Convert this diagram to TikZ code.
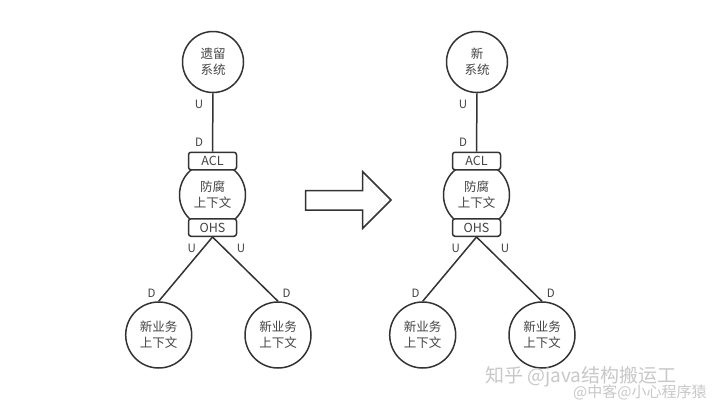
\documentclass[tikz,border=0pt]{standalone}
\usepackage{fontspec}
\setmainfont{Noto Sans CJK SC}
\definecolor{ln}{HTML}{333333}
\definecolor{tx}{HTML}{444444}
\definecolor{wm}{HTML}{C8C8C8}
\tikzset{
  ctx/.style={circle, draw=ln, line width=1.5pt, fill=white, inner sep=0pt, align=center,
    font=\fontsize{12.5}{16}\selectfont, text=tx},
  smallctx/.style={ctx, minimum size=61pt},
  bigctx/.style={ctx, minimum size=66pt},
  port/.style={draw=ln, line width=1.5pt, rounded corners=2.5pt, minimum width=48pt,
    minimum height=17.5pt, fill=white, inner sep=0pt, font=\fontsize{12.5}{14}\selectfont, text=tx},
  lab/.style={font=\fontsize{11.5}{12}\selectfont, text=tx, inner sep=0pt},
  conn/.style={draw=ln, line width=1.5pt},
  wmark/.style={text=wm, inner sep=0pt, anchor=west}
}
\begin{document}
\begin{tikzpicture}[x=1pt, y=-1pt]
\useasboundingbox[fill=white] (0,0) rectangle (720,408);
% ---------- left diagram ----------
\node[smallctx] (Ltop) at (213,62) {遗留\\系统};
\node[bigctx] (Lacd) at (212.5,195) {防腐\\上下文};
\node[port] (Lacl) at (212.5,161) {ACL};
\node[port] (Lohs) at (212.5,227.5) {OHS};
\node[bigctx] (Lb1) at (158.7,335) {新业务\\上下文};
\node[bigctx] (Lb2) at (278,335) {新业务\\上下文};
\draw[conn] (Ltop.south) -- (Lacl.north);
\draw[conn] (Lohs.south) -- (Lb1.north);
\draw[conn] (Lohs.south) -- (Lb2.north);
\node[lab] (Lu1) at (199,104) {U};
\node[lab] (Ld1) at (199,142) {D};
\node[lab] (Lu2) at (191.7,248) {U};
\node[lab] (Lu3) at (241,248) {U};
\node[lab] (Ld2) at (151.7,293) {D};
\node[lab] (Ld3) at (286.7,293) {D};
% ---------- arrow ----------
\draw[conn, line join=miter] (305.7,190.7) -- (362.7,190.7) -- (362.7,171.7) -- (391,200)
  -- (362.7,228.3) -- (362.7,210) -- (305.7,210) -- cycle;
% ---------- right diagram ----------
\node[smallctx] (Rtop) at (477,62) {新\\系统};
\node[bigctx] (Racd) at (476.5,195) {防腐\\上下文};
\node[port] (Racl) at (476.5,161) {ACL};
\node[port] (Rohs) at (476.5,227.5) {OHS};
\node[bigctx] (Rb1) at (422.7,335) {新业务\\上下文};
\node[bigctx] (Rb2) at (542,335) {新业务\\上下文};
\draw[conn] (Rtop.south) -- (Racl.north);
\draw[conn] (Rohs.south) -- (Rb1.north);
\draw[conn] (Rohs.south) -- (Rb2.north);
\node[lab] (Ru1) at (463,104) {U};
\node[lab] (Rd1) at (463,142) {D};
\node[lab] (Ru2) at (455.7,248) {U};
\node[lab] (Ru3) at (505,248) {U};
\node[lab] (Rd2) at (415.7,293) {D};
\node[lab] (Rd3) at (550.7,293) {D};
% ---------- watermark ----------
\node[wmark, font=\fontsize{19}{20}\selectfont] (wm1) at (485,377) {知乎 @java结构搬运工};
\node[wmark, font=\fontsize{15}{16}\selectfont] (wm2) at (573,392) {@中客@小心程序猿};
\end{tikzpicture}
\end{document}
